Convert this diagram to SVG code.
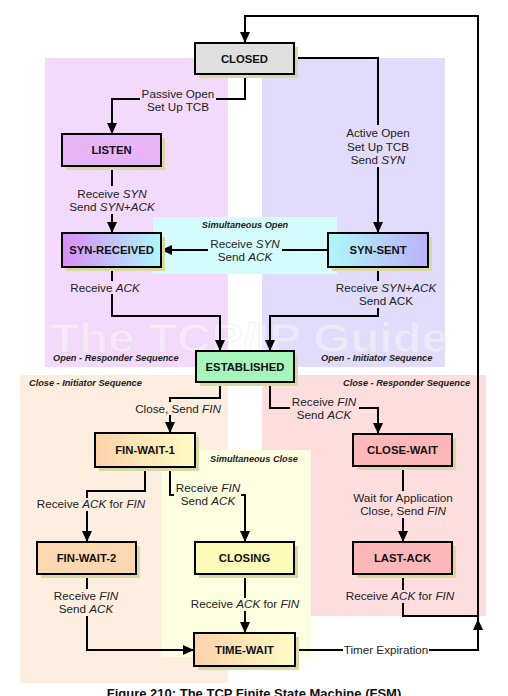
<svg xmlns="http://www.w3.org/2000/svg" width="508" height="696" viewBox="0 0 508 696">
<style>
.lbl{font-family:"Liberation Sans",Arial,sans-serif;font-size:11.7px;fill:#222;text-anchor:middle}
.it{font-style:italic}
.reg{font-family:"Liberation Sans",Arial,sans-serif;font-size:9.2px;font-weight:bold;font-style:italic;fill:#222}
.nt{font-family:"Liberation Sans",Arial,sans-serif;font-size:11.3px;font-weight:bold;fill:#111;text-anchor:middle}
.box{stroke:#000;stroke-width:2}
.sh{fill:#d9d9a6}
.ln{fill:none;stroke:#000;stroke-width:2}
</style>
<defs>
<marker id="ah" markerUnits="userSpaceOnUse" markerWidth="12" markerHeight="12" viewBox="0 0 12 12" refX="11" refY="6" orient="auto">
<path d="M0,1 L11,6 L0,11 Z" fill="#000"/>
</marker>
<linearGradient id="gSR" x1="0" x2="1" y1="0" y2="0"><stop offset="0" stop-color="#da8cf8"/><stop offset="1" stop-color="#aef8f8"/></linearGradient>
<linearGradient id="gSS" x1="0" x2="1" y1="0" y2="0"><stop offset="0" stop-color="#aef8f8"/><stop offset="1" stop-color="#bcb2f8"/></linearGradient>
<linearGradient id="gFW" x1="0" x2="1" y1="0" y2="0"><stop offset="0" stop-color="#fcd2aa"/><stop offset="1" stop-color="#fcfcc4"/></linearGradient>
</defs>
<rect width="508" height="696" fill="#fff"/>
<g id="regions">
<rect x="45" y="58" width="183" height="309" fill="#f3d9fb"/>
<rect x="262" y="58" width="183" height="309" fill="#e1dcfb"/>
<rect x="153" y="217" width="184" height="57" fill="#d4fcfc"/>
<rect x="20" y="375" width="208" height="308" fill="#fdeee0"/>
<rect x="262" y="375" width="224" height="241" fill="#fddddd"/>
<rect x="162" y="450" width="149" height="207" fill="#fdfde0"/>
<text x="50" y="352" font-family="'Liberation Sans',Arial,sans-serif" font-weight="bold" font-size="40" textLength="398" lengthAdjust="spacingAndGlyphs" fill="#ffffff" fill-opacity="0.35" stroke="#d8d8d8" stroke-opacity="0.35" stroke-width="1">The TCP/IP Guide</text>
<text class="reg" x="53" y="361">Open - Responder Sequence</text>
<text class="reg" x="321" y="361">Open - Initiator Sequence</text>
<text class="reg" x="245" y="228" text-anchor="middle">Simultaneous Open</text>
<text class="reg" x="29" y="386">Close - Initiator Sequence</text>
<text class="reg" x="343" y="386">Close - Responder Sequence</text>
<text class="reg" x="254" y="462" text-anchor="middle">Simultaneous Close</text>
</g>
<g id="connectors">
<path class="ln" d="M478,620 V16 H245 V43" marker-end="url(#ah)"/>
<path class="ln" d="M245,74 V99 H112 V134" marker-end="url(#ah)"/>
<path class="ln" d="M294,58 H378 V233" marker-end="url(#ah)"/>
<path class="ln" d="M112,166 V233" marker-end="url(#ah)"/>
<path class="ln" d="M328,250 H161" marker-end="url(#ah)"/>
<path class="ln" d="M112,267 V316 H220 V351" marker-end="url(#ah)"/>
<path class="ln" d="M378,267 V316 H270 V351" marker-end="url(#ah)"/>
<path class="ln" d="M220,382 V398 H170 V433" marker-end="url(#ah)"/>
<path class="ln" d="M270,382 V408 H378 V434" marker-end="url(#ah)"/>
<path class="ln" d="M145,467 V491 H87 V542" marker-end="url(#ah)"/>
<path class="ln" d="M170,467 V495 H245 V542" marker-end="url(#ah)"/>
<path class="ln" d="M403,466 V542" marker-end="url(#ah)"/>
<path class="ln" d="M87,574 V650 H194" marker-end="url(#ah)"/>
<path class="ln" d="M245,574 V633" marker-end="url(#ah)"/>
<path class="ln" d="M403,574 V616 H478"/>
<path class="ln" d="M295,650 H478 V619" marker-end="url(#ah)"/>
<rect x="140" y="87" width="76" height="27" fill="#f3d9fb"/>
<rect x="345" y="125" width="66" height="42" fill="#e1dcfb"/>
<rect x="76" y="186" width="72" height="28" fill="#f3d9fb"/>
<rect x="208" y="237" width="74" height="27" fill="#d4fcfc"/>
<rect x="68" y="281" width="74" height="13" fill="#f3d9fb"/>
<rect x="335" y="281" width="103" height="27" fill="#e1dcfb"/>
<rect x="134" y="402" width="90" height="13" fill="#fdeee0"/>
<rect x="290" y="396" width="69" height="26" fill="#fddddd"/>
<rect x="36" y="498" width="112" height="13" fill="#fdeee0"/>
<rect x="174" y="482" width="67" height="27" fill="#fdfde0"/>
<rect x="351" y="491" width="104" height="27" fill="#fddddd"/>
<rect x="52" y="589" width="68" height="27" fill="#fdeee0"/>
<rect x="190" y="598" width="111" height="13" fill="#fdfde0"/>
<rect x="344" y="590" width="111" height="13" fill="#fddddd"/>
<rect x="343" y="643" width="86" height="14" fill="#fff"/>
<text class="lbl" x="178" y="97.5">Passive Open</text>
<text class="lbl" x="178" y="111">Set Up TCB</text>
<text class="lbl" x="378" y="137">Active Open</text>
<text class="lbl" x="378" y="150.5">Set Up TCB</text>
<text class="lbl" x="378" y="164">Send <tspan class="it">SYN</tspan></text>
<text class="lbl" x="112" y="197.5">Receive <tspan class="it">SYN</tspan></text>
<text class="lbl" x="112" y="211">Send <tspan class="it">SYN+ACK</tspan></text>
<text class="lbl" x="245" y="248">Receive <tspan class="it">SYN</tspan></text>
<text class="lbl" x="245" y="261">Send <tspan class="it">ACK</tspan></text>
<text class="lbl" x="105" y="292">Receive <tspan class="it">ACK</tspan></text>
<text class="lbl" x="386" y="292">Receive <tspan class="it">SYN+ACK</tspan></text>
<text class="lbl" x="386" y="305">Send ACK</text>
<text class="lbl" x="178" y="413">Close, Send <tspan class="it">FIN</tspan></text>
<text class="lbl" x="324" y="406">Receive <tspan class="it">FIN</tspan></text>
<text class="lbl" x="324" y="419">Send <tspan class="it">ACK</tspan></text>
<text class="lbl" x="91" y="508">Receive <tspan class="it">ACK</tspan> for <tspan class="it">FIN</tspan></text>
<text class="lbl" x="208" y="492">Receive <tspan class="it">FIN</tspan></text>
<text class="lbl" x="208" y="505">Send <tspan class="it">ACK</tspan></text>
<text class="lbl" x="403" y="501.5">Wait for Application</text>
<text class="lbl" x="403" y="514.5">Close, Send <tspan class="it">FIN</tspan></text>
<text class="lbl" x="86" y="599.5">Receive <tspan class="it">FIN</tspan></text>
<text class="lbl" x="86" y="613">Send <tspan class="it">ACK</tspan></text>
<text class="lbl" x="245" y="607.5">Receive <tspan class="it">ACK</tspan> for <tspan class="it">FIN</tspan></text>
<text class="lbl" x="400" y="599.5">Receive <tspan class="it">ACK</tspan> for <tspan class="it">FIN</tspan></text>
<text class="lbl" x="386" y="653.5">Timer Expiration</text>
</g>
<g id="closed"><rect class="sh" x="199" y="47" width="99" height="31"/><rect class="box" x="195" y="43" width="99" height="31" fill="#e0e0e0"/><text class="nt" x="244.5" y="62.5">CLOSED</text></g>
<g id="listen"><rect class="sh" x="66" y="138" width="99" height="32"/><rect class="box" x="62" y="134" width="99" height="32" fill="#e8b4f8"/><text class="nt" x="111.5" y="154">LISTEN</text></g>
<g id="syn-received"><rect class="sh" x="66" y="237" width="99" height="34"/><rect class="box" x="62" y="233" width="99" height="34" fill="url(#gSR)"/><text class="nt" x="111.5" y="254">SYN-RECEIVED</text></g>
<g id="syn-sent"><rect class="sh" x="332" y="237" width="100" height="34"/><rect class="box" x="328" y="233" width="100" height="34" fill="url(#gSS)"/><text class="nt" x="378" y="254">SYN-SENT</text></g>
<g id="established"><rect class="sh" x="200" y="355" width="98" height="31"/><rect class="box" x="196" y="351" width="98" height="31" fill="#a6f6bb"/><text class="nt" x="245" y="370.5">ESTABLISHED</text></g>
<g id="fin-wait-1"><rect class="sh" x="99" y="437" width="100" height="34"/><rect class="box" x="95" y="433" width="100" height="34" fill="url(#gFW)"/><text class="nt" x="145" y="454">FIN-WAIT-1</text></g>
<g id="close-wait"><rect class="sh" x="357" y="438" width="99" height="32"/><rect class="box" x="353" y="434" width="99" height="32" fill="#fcb8b8"/><text class="nt" x="402.5" y="454">CLOSE-WAIT</text></g>
<g id="fin-wait-2"><rect class="sh" x="41" y="546" width="99" height="32"/><rect class="box" x="37" y="542" width="99" height="32" fill="#fcd8b0"/><text class="nt" x="86.5" y="562">FIN-WAIT-2</text></g>
<g id="closing"><rect class="sh" x="199" y="546" width="99" height="32"/><rect class="box" x="195" y="542" width="99" height="32" fill="#fcfcb8"/><text class="nt" x="244.5" y="562">CLOSING</text></g>
<g id="last-ack"><rect class="sh" x="357" y="546" width="99" height="32"/><rect class="box" x="353" y="542" width="99" height="32" fill="#fcb8b8"/><text class="nt" x="402.5" y="562">LAST-ACK</text></g>
<g id="time-wait"><rect class="sh" x="198" y="637" width="101" height="33"/><rect class="box" x="194" y="633" width="101" height="33" fill="url(#gFW)"/><text class="nt" x="244.5" y="653.5">TIME-WAIT</text></g>
<text x="254" y="698" text-anchor="middle" font-family="'Liberation Sans',Arial,sans-serif" font-weight="bold" font-size="13" fill="#111">Figure 210: The TCP Finite State Machine (FSM)</text>
</svg>
